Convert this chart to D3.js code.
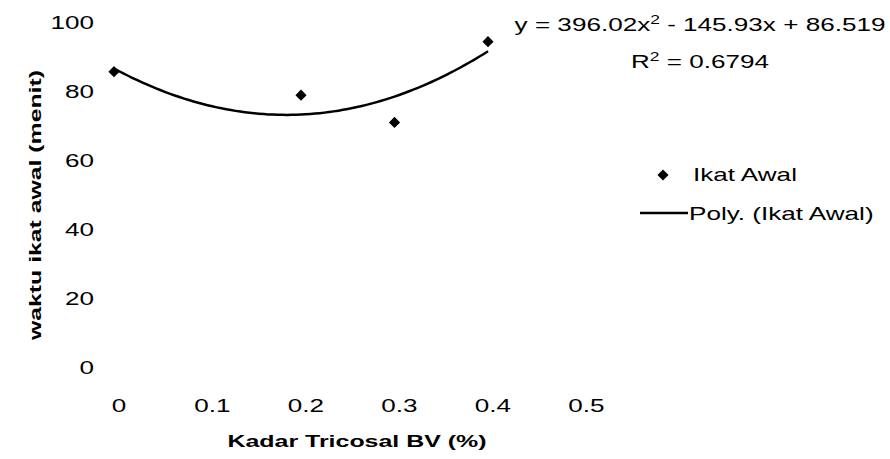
<!DOCTYPE html>
<html>
<head>
<meta charset="utf-8">
<script src="https://cdn.jsdelivr.net/npm/d3@7"></script>
<style>
  body { margin: 0; background: #fff; }
  text { font-family: "Liberation Sans", Arial, sans-serif; fill: #000; }
</style>
</head>
<body>
<svg id="chart" width="890" height="459"></svg>
<script>
// data
const kadar = [0, 0.2, 0.3, 0.4];
const ikatAwal = [85.6, 78.8, 70.9, 94.3];
const xTicks = [0, 0.1, 0.2, 0.3, 0.4, 0.5];
const yTicks = [0, 20, 40, 60, 80, 100];
// trendline coefficients (a x^2 + b x + c)
const polyCoef = [396.02, -145.93, 86.519];
const rSquared = "0.6794";

const svg = d3.select('#chart');
const SX = 1.45; // horizontal stretch of the scanned text

const x = d3.scaleLinear().domain([0, 0.5]).range([114, 581.5]);
const y = d3.scaleLinear().domain([0, 100]).range([367, 22]);

// tick labels (no axis lines in the original)
svg.append('g').selectAll('text')
  .data(yTicks)
  .join('text')
  .attr('transform', d => `translate(94,${y(d) + 6.5}) scale(${SX},1)`)
  .attr('text-anchor', 'end')
  .style('font-size', '18px')
  .text(d => d);

svg.append('g').selectAll('text')
  .data(xTicks)
  .join('text')
  .attr('transform', d => `translate(${x(d) + 5},412) scale(${SX},1)`)
  .attr('text-anchor', 'middle')
  .style('font-size', '18px')
  .text(d => d);

// axis titles
svg.append('text')
  .attr('transform', 'translate(41,205) rotate(-90)')
  .attr('text-anchor', 'middle')
  .attr('textLength', 270)
  .attr('lengthAdjust', 'spacingAndGlyphs')
  .style('font-size', '17px')
  .style('font-weight', 'bold')
  .text('waktu ikat awal (menit)');

svg.append('text')
  .attr('x', 357).attr('y', 447)
  .attr('text-anchor', 'middle')
  .attr('textLength', 259)
  .attr('lengthAdjust', 'spacingAndGlyphs')
  .style('font-size', '17px')
  .style('font-weight', 'bold')
  .text('Kadar Tricosal BV (%)');

// polynomial trendline
const poly = v => polyCoef[0] * v * v + polyCoef[1] * v + polyCoef[2];
const trend = d3.range(0, 0.4001, 0.005).map(v => [v, poly(v)]);
svg.append('path')
  .datum(trend)
  .attr('fill', 'none')
  .attr('stroke', '#000')
  .attr('stroke-width', 2.5)
  .attr('d', d3.line().x(d => x(d[0])).y(d => y(d[1])));

// data points: square turned 45deg
const marker = d3.symbol().type(d3.symbolSquare).size(62);
svg.append('g').selectAll('path')
  .data(kadar.map((k, i) => [k, ikatAwal[i]]))
  .join('path')
  .attr('transform', d => `translate(${x(d[0])},${y(d[1])}) rotate(45)`)
  .attr('d', marker)
  .attr('fill', '#000');

// equation
const eq = svg.append('text')
  .attr('transform', `translate(700,31) scale(${SX},1)`)
  .attr('text-anchor', 'middle')
  .style('font-size', '18px');
eq.append('tspan').text(`y = ${polyCoef[0]}x`);
eq.append('tspan').attr('dy', -7).style('font-size', '12px').text('2');
eq.append('tspan').attr('dy', 7).text(` - ${Math.abs(polyCoef[1])}x + ${polyCoef[2]}`);

const r2 = svg.append('text')
  .attr('transform', `translate(700,68) scale(${SX},1)`)
  .attr('text-anchor', 'middle')
  .style('font-size', '18px');
r2.append('tspan').text('R');
r2.append('tspan').attr('dy', -7).style('font-size', '12px').text('2');
r2.append('tspan').attr('dy', 7).text(` = ${rSquared}`);

// legend
const legend = svg.append('g');
legend.append('path')
  .attr('transform', 'translate(663,175) rotate(45)')
  .attr('d', marker)
  .attr('fill', '#000');
legend.append('text')
  .attr('transform', `translate(693,181) scale(${SX},1)`)
  .style('font-size', '18px')
  .text('Ikat Awal');
legend.append('line')
  .attr('x1', 640).attr('x2', 688)
  .attr('y1', 213).attr('y2', 213)
  .attr('stroke', '#000')
  .attr('stroke-width', 2.5);
legend.append('text')
  .attr('transform', `translate(689,220) scale(${SX},1)`)
  .style('font-size', '18px')
  .text('Poly. (Ikat Awal)');
</script>
</body>
</html>
